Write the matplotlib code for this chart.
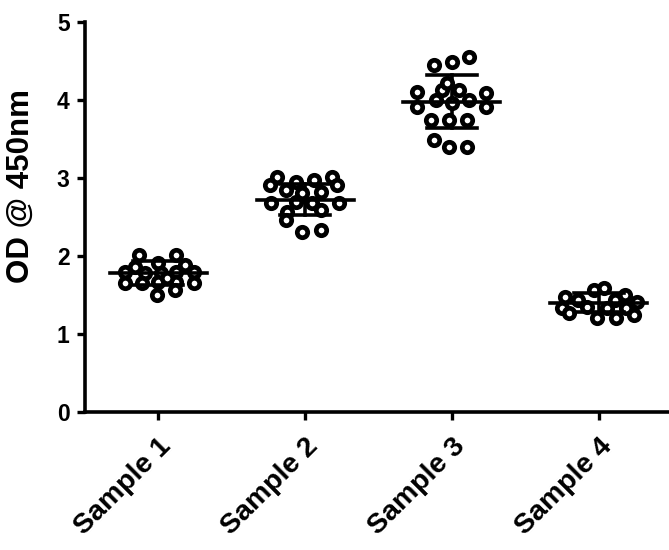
import numpy as np
import matplotlib.pyplot as plt

plt.rcParams['font.family'] = ['Liberation Sans', 'DejaVu Sans']
plt.rcParams['font.weight'] = 'bold'

# values (OD @ 450nm), with horizontal offsets (in category units)
samples = ['Sample 1', 'Sample 2', 'Sample 3', 'Sample 4']

s1_y = [2.01, 2.01, 1.86, 1.91, 1.88, 1.80, 1.78, 1.78, 1.80, 1.80,
        1.65, 1.65, 1.67, 1.67, 1.65, 1.50, 1.56, 1.72]
s1_dx = [-0.13, 0.12, -0.16, 0.0, 0.18, -0.23, -0.09, 0.02, 0.12, 0.24,
         -0.23, -0.11, 0.0, 0.12, 0.24, -0.01, 0.11, 0.06]

s2_y = [3.01, 2.95, 2.97, 3.01, 2.91, 2.91, 2.85, 2.82, 2.81, 2.68,
        2.69, 2.68, 2.68, 2.59, 2.56, 2.46, 2.31, 2.33]
s2_dx = [-0.19, -0.06, 0.06, 0.18, 0.22, -0.24, -0.13, 0.11, -0.02, -0.23,
         -0.06, 0.05, 0.23, 0.11, -0.12, -0.13, -0.02, 0.11]

s3_y = [4.45, 4.49, 4.55, 4.10, 3.91, 4.13, 4.13, 4.09, 3.91, 4.00,
        3.96, 4.00, 3.74, 3.74, 3.74, 3.49, 3.40, 3.40, 4.22]
s3_dx = [-0.12, 0.0, 0.12, -0.24, -0.24, -0.07, 0.05, 0.23, 0.23, -0.11,
         0.0, 0.12, -0.14, -0.02, 0.10, -0.12, -0.02, 0.10, -0.03]

s4_y = [1.47, 1.44, 1.56, 1.59, 1.50, 1.41, 1.33, 1.35, 1.33, 1.33,
        1.24, 1.21, 1.21, 1.27, 1.44]
s4_dx = [-0.23, -0.14, -0.03, 0.04, 0.18, 0.26, -0.25, -0.08, 0.06, 0.19,
         0.24, -0.01, 0.12, -0.2, 0.11]

means = [1.78, 2.72, 3.98, 1.40]
sds = [0.15, 0.20, 0.34, 0.12]

all_y = [s1_y, s2_y, s3_y, s4_y]
all_dx = [s1_dx, s2_dx, s3_dx, s4_dx]

fig = plt.figure(figsize=(6.69, 5.5), dpi=100)
ax = fig.add_axes([85 / 669, 1 - 412 / 550, 1 - 85 / 669, 390 / 550])

for i in range(4):
    x = i + np.array(all_dx[i])
    ax.plot(x, all_y[i], 'o', ms=7.5, mfc='white', mec='black', mew=3.4,
            zorder=3, clip_on=False)
    m, s = means[i], sds[i]
    ax.plot([i - 0.33, i + 0.33], [m, m], color='black', lw=2.6, zorder=4)
    ax.plot([i - 0.17, i + 0.17], [m + s, m + s], color='black', lw=2.6, zorder=4)
    ax.plot([i - 0.17, i + 0.17], [m - s, m - s], color='black', lw=2.6, zorder=4)
    ax.plot([i, i], [m - s, m + s], color='black', lw=2.6, zorder=2)

ax.set_xlim(-0.5, 3.48)
ax.set_ylim(0, 5)
ax.set_yticks([0, 1, 2, 3, 4, 5])
ax.set_xticks(range(4))
ax.set_xticklabels(samples, rotation=45, ha='right', rotation_mode='anchor',
                   fontsize=20.5, fontweight='bold')
ax.tick_params(axis='y', labelsize=16.5, width=2.4, length=6, pad=5)
ax.tick_params(axis='x', width=2.4, length=6, pad=9)
ax.set_ylabel('OD @ 450nm', fontsize=22.5, fontweight='bold')
ax.yaxis.set_label_coords(-0.085, 0.58)

for side in ['top', 'right']:
    ax.spines[side].set_visible(False)
for side in ['left', 'bottom']:
    ax.spines[side].set_linewidth(2.6)

fig.savefig('out.png', dpi=100)
